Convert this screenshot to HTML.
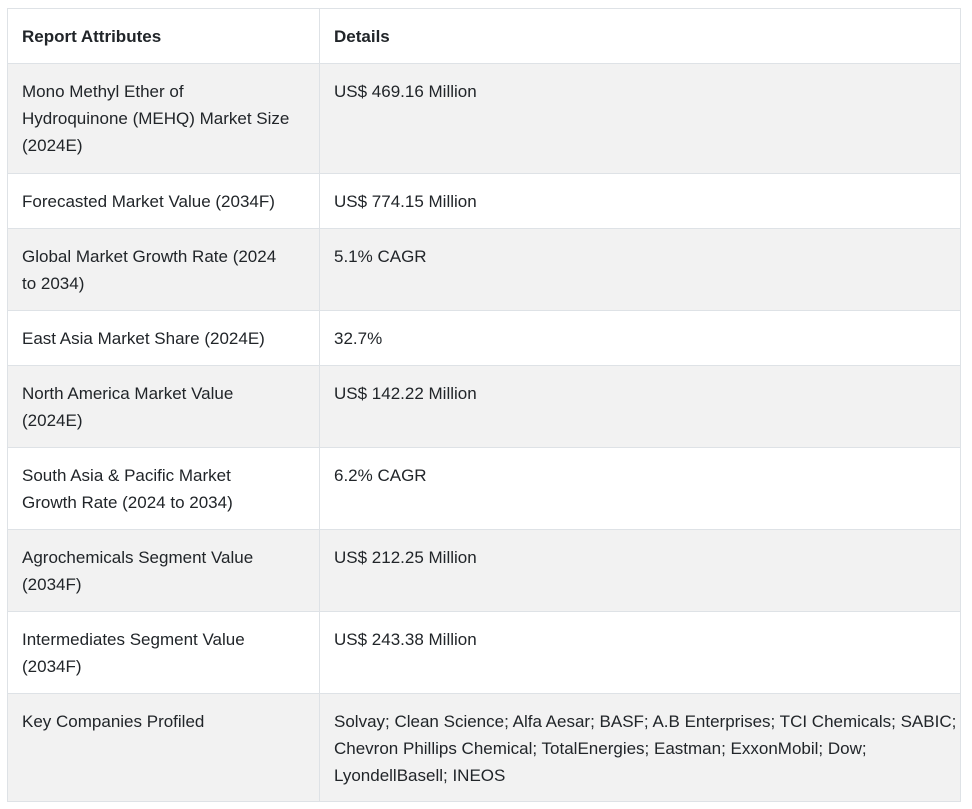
<!DOCTYPE html>
<html><head><meta charset="utf-8"><style>
body{margin:0;background:#fff;width:972px;height:809px;overflow:hidden;font-family:"Liberation Sans",sans-serif;color:#212529;}
table{position:absolute;left:7px;top:8px;width:954px;border-collapse:collapse;table-layout:fixed;}
td,th{border:1px solid #dee2e6;vertical-align:top;padding:14px 14px 0 14px;font-size:17px;line-height:27px;text-align:left;white-space:nowrap;box-sizing:border-box;overflow:hidden;}
th{font-weight:bold;padding-top:14px;}
tr.g td{background:#f2f2f2;}
col.a{width:312px;}
</style></head><body>
<table>
<colgroup><col class="a"><col></colgroup>
<tr style="height:55px"><th>Report Attributes</th><th>Details</th></tr>
<tr class="g" style="height:110px"><td>Mono Methyl Ether of<br>Hydroquinone (MEHQ) Market Size<br>(2024E)</td><td>US$ 469.16 Million</td></tr>
<tr style="height:55px"><td>Forecasted Market Value (2034F)</td><td>US$ 774.15 Million</td></tr>
<tr class="g" style="height:82px"><td>Global Market Growth Rate (2024<br>to 2034)</td><td>5.1% CAGR</td></tr>
<tr style="height:55px"><td>East Asia Market Share (2024E)</td><td>32.7%</td></tr>
<tr class="g" style="height:82px"><td>North America Market Value<br>(2024E)</td><td>US$ 142.22 Million</td></tr>
<tr style="height:82px"><td>South Asia &amp; Pacific Market<br>Growth Rate (2024 to 2034)</td><td>6.2% CAGR</td></tr>
<tr class="g" style="height:82px"><td>Agrochemicals Segment Value<br>(2034F)</td><td>US$ 212.25 Million</td></tr>
<tr style="height:82px"><td>Intermediates Segment Value<br>(2034F)</td><td>US$ 243.38 Million</td></tr>
<tr class="g" style="height:108px"><td>Key Companies Profiled</td><td>Solvay; Clean Science; Alfa Aesar; BASF; A.B Enterprises; TCI Chemicals; SABIC;<br>Chevron Phillips Chemical; TotalEnergies; Eastman; ExxonMobil; Dow;<br>LyondellBasell; INEOS</td></tr>
</table>
</body></html>
